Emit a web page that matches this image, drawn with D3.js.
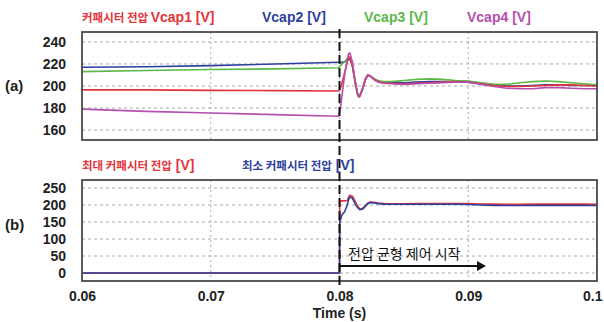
<!DOCTYPE html>
<html><head><meta charset="utf-8">
<script src="https://cdn.jsdelivr.net/npm/d3@7"></script>
<style>
body{margin:0;background:#fff;}
svg{display:block;}
</style></head>
<body>
<svg id="c" width="604" height="322"></svg>
<script>
// ---- data ----
const timeTicks = [0.06, 0.07, 0.08, 0.09, 0.1];
const timeTickLabels = ["0.06", "0.07", "0.08", "0.09", "0.1"];
const topTicks = [160, 180, 200, 220, 240];
const botTicks = [0, 50, 100, 150, 200, 250];

const topT = [0.06, 0.065, 0.07, 0.075, 0.0799, 0.08005, 0.0802, 0.0804, 0.0806, 0.0807, 0.0808, 0.081, 0.0812, 0.0814, 0.0815, 0.0816, 0.0818, 0.082, 0.0822, 0.0824, 0.0827, 0.083, 0.0834, 0.084, 0.085, 0.086, 0.087, 0.088, 0.089, 0.09, 0.091, 0.092, 0.093, 0.094, 0.095, 0.096, 0.097, 0.098, 0.099, 0.1];
const vcap1 = [196.5, 196.5, 196, 195.8, 195.5, 197, 203, 212, 222, 226, 226, 218, 204, 192, 190, 191, 198, 206, 210, 209, 206, 204, 203, 202.5, 202, 202.5, 203, 203.5, 204, 203.5, 202, 200.5, 199.5, 199.5, 200, 200.5, 201, 201, 200.5, 200];
const vcap2 = [217, 217.5, 218.5, 220, 221.5, 221.5, 221.5, 222, 223, 224, 224.5, 219, 205, 193, 191, 192, 198, 206, 210, 209, 206, 204, 203.5, 203.5, 203, 203.5, 204, 204, 204, 204, 202.5, 201, 200, 200, 200.5, 201, 201, 200.5, 200.5, 200.5];
const vcap3 = [213, 214, 215, 215.5, 216.5, 218, 220, 222, 225, 226, 226, 219, 205, 193, 191, 192, 198, 206, 210, 209, 206.5, 205, 204, 204, 205, 206, 206.5, 206, 205, 204.5, 203, 201.5, 201.5, 203, 204, 204.5, 204, 203, 202, 201];
const vcap4 = [179, 177, 175.5, 174, 172.5, 178, 192, 210, 224, 229, 230, 222, 206, 193, 190, 191, 197, 205, 209.5, 209, 205.5, 203.5, 202.5, 202, 201.5, 202, 202.5, 203, 203.5, 203.5, 201.5, 199.5, 198, 197.5, 197.5, 198.5, 198.5, 198, 197.5, 197.5];

const botT = [0.06, 0.07, 0.0799, 0.08, 0.08002, 0.0802, 0.0804, 0.0806, 0.0807, 0.0808, 0.081, 0.0812, 0.0814, 0.0816, 0.0818, 0.082, 0.0822, 0.0824, 0.0827, 0.083, 0.0835, 0.084, 0.085, 0.086, 0.087, 0.088, 0.089, 0.09, 0.091, 0.092, 0.093, 0.094, 0.095, 0.096, 0.097, 0.098, 0.099, 0.1];
const vmax = [0, 0, 0, 0, 212, 212, 212, 213, 222, 229, 226, 212, 196, 188, 190, 198, 206, 209, 208, 206, 204, 203.5, 203.5, 204, 204.5, 204.5, 204.5, 204, 203, 202.5, 202, 202, 202.5, 202.5, 202.5, 202.5, 202.5, 202];
const vmin = [0, 0, 0, 0, 150, 172, 180, 200, 215, 224, 220, 205, 192, 186, 188, 196, 204, 207, 206, 204, 202.5, 202, 202, 202, 202, 202, 202, 201.5, 200, 199, 198.5, 198.5, 199, 199, 199, 199, 199, 198.5];

const controlStart = 0.08;

// ---- layout ----
const svg = d3.select("#c");
const L = 82, R = 597;
const pTop = {y0: 32, y1: 140, dom: [151, 249]};
const pBot = {y0: 180, y1: 281, dom: [-23.5, 273.5]};
const x = d3.scaleLinear().domain([0.06, 0.1]).range([L, R]);
const yTop = d3.scaleLinear().domain(pTop.dom).range([pTop.y1, pTop.y0]);
const yBot = d3.scaleLinear().domain(pBot.dom).range([pBot.y1, pBot.y0]);

const C = {red:"#e3343c", blue:"#2e3f9c", green:"#5cb847", mag:"#b44fae"};
const latin = "'Liberation Sans', Arial, sans-serif";
const kor = "'Noto Sans CJK KR', sans-serif";

function panel(p, y, ticks, id) {
  const g = svg.append("g");
  g.selectAll(".hg").data(ticks).enter().append("line")
    .attr("x1", L).attr("x2", R).attr("y1", d => y(d)).attr("y2", d => y(d))
    .attr("stroke", "#a8a8a8").attr("stroke-width", 1).attr("stroke-dasharray", "3,3");
  g.selectAll(".vg").data(timeTicks.slice(1, -1)).enter().append("line")
    .attr("x1", d => x(d)).attr("x2", d => x(d)).attr("y1", p.y0).attr("y2", p.y1)
    .attr("stroke", "#a8a8a8").attr("stroke-width", 1).attr("stroke-dasharray", "2,3");
  const ax = d3.axisLeft(y).tickValues(ticks).tickSize(0).tickPadding(16).tickFormat(d3.format("d"));
  const ag = svg.append("g").attr("transform", `translate(${L},0)`).call(ax);
  ag.select(".domain").remove();
  ag.selectAll("text").attr("font-family", latin).attr("font-weight", "bold")
    .attr("font-size", 14).attr("fill", "#222");
  svg.append("clipPath").attr("id", id).append("rect")
    .attr("x", L).attr("y", p.y0).attr("width", R - L).attr("height", p.y1 - p.y0);
  return g;
}

panel(pTop, yTop, topTicks, "clipA");
panel(pBot, yBot, botTicks, "clipB");

function drawLine(T, V, y, color, clip) {
  const line = d3.line().x((d, i) => x(T[i])).y(d => y(d));
  svg.append("path").datum(V).attr("d", line).attr("fill", "none")
    .attr("stroke", color).attr("stroke-width", 1.6).attr("stroke-linejoin", "round")
    .attr("clip-path", `url(#${clip})`);
}
drawLine(topT, vcap2, yTop, C.blue, "clipA");
drawLine(topT, vcap3, yTop, C.green, "clipA");
drawLine(topT, vcap1, yTop, C.red, "clipA");
drawLine(topT, vcap4, yTop, C.mag, "clipA");
drawLine(botT, vmax, yBot, C.red, "clipB");
drawLine(botT, vmin, yBot, C.blue, "clipB");

[pTop, pBot].forEach(p => {
  svg.append("rect").attr("x", L).attr("y", p.y0).attr("width", R - L).attr("height", p.y1 - p.y0)
    .attr("fill", "none").attr("stroke", "#4a4a4a").attr("stroke-width", 1.8);
});

svg.append("line").attr("x1", x(controlStart)).attr("x2", x(controlStart))
  .attr("y1", 29).attr("y2", 288).attr("stroke", "#111").attr("stroke-width", 2)
  .attr("stroke-dasharray", "9,4");

const xa = d3.axisBottom(x).tickValues(timeTicks).tickSize(0).tickPadding(10)
  .tickFormat((d, i) => timeTickLabels[i]);
const xg = svg.append("g").attr("transform", `translate(0,${pBot.y1})`).call(xa);
xg.select(".domain").remove();
xg.selectAll("text").attr("font-family", latin).attr("font-weight", "bold")
  .attr("font-size", 14).attr("fill", "#222");
// keep the last label inside the window
xg.selectAll("text").filter((d, i) => i === timeTicks.length - 1)
  .attr("text-anchor", "end").attr("dx", 5);

svg.append("text").attr("x", x(0.08)).attr("y", 318).attr("text-anchor", "middle")
  .attr("font-family", latin).attr("font-weight", "bold").attr("font-size", 14)
  .attr("fill", "#222").text("Time (s)");

[["(a)", 91], ["(b)", 230]].forEach(([t, yy]) => {
  svg.append("text").attr("x", 5).attr("y", yy).attr("font-family", latin)
    .attr("font-weight", "bold").attr("font-size", 15).attr("fill", "#222").text(t);
});

function title(xx, yy, color, korText, latinText) {
  const t = svg.append("text").attr("x", xx).attr("y", yy).attr("fill", color);
  if (korText) t.append("tspan").attr("font-family", kor).attr("font-weight", "bold")
    .attr("font-size", 11.5).text(korText);
  if (latinText) t.append("tspan").attr("font-family", latin).attr("font-weight", "bold")
    .attr("font-size", 14).text(latinText);
}
title(82, 22, C.red, "커패시터 전압 ", "Vcap1 [V]");
title(262, 22, C.blue, null, "Vcap2 [V]");
title(364, 22, C.green, null, "Vcap3 [V]");
title(467, 22, C.mag, null, "Vcap4 [V]");
title(82, 170, C.red, "최대 커패시터 전압", " [V]");
title(242, 170, C.blue, "최소 커패시터 전압", " [V]");

const ay = 266;
svg.append("line").attr("x1", x(controlStart)).attr("x2", 478).attr("y1", ay).attr("y2", ay)
  .attr("stroke", "#111").attr("stroke-width", 2);
svg.append("path").attr("d", `M477,${ay - 5}L486,${ay}L477,${ay + 5}Z`).attr("fill", "#111");
svg.append("text").attr("x", 348).attr("y", 259).attr("font-family", kor)
  .attr("font-size", 14).attr("fill", "#111").text("전압 균형 제어 시작");
</script>
</body></html>
